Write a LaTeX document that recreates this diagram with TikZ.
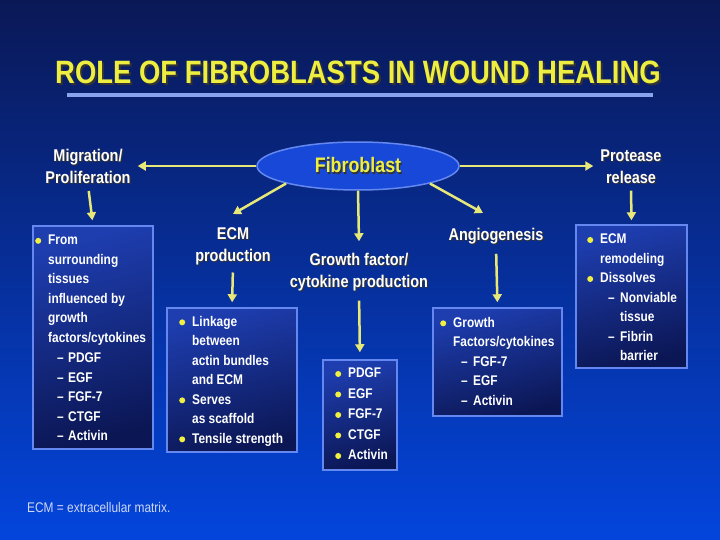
\documentclass[tikz,border=0pt]{standalone}
\usepackage{fontspec}
\setmainfont{Liberation Sans}
\newfontfamily\cf[FakeStretch=0.85]{Liberation Sans}
\usetikzlibrary{shapes.geometric,arrows.meta}
\definecolor{bgtop}{HTML}{0A1856}
\definecolor{bgmid}{HTML}{0930A6}
\definecolor{bgbot}{HTML}{0345DC}
\definecolor{ttlyel}{HTML}{EEEE40}
\definecolor{arryel}{HTML}{E8E878}
\definecolor{byel}{HTML}{F0F040}
\definecolor{rule}{HTML}{8AA4EC}
\definecolor{edge}{HTML}{6488F0}
\definecolor{boxtop}{HTML}{1E3EB0}
\definecolor{boxbot}{HTML}{0B1654}
\definecolor{ellfill}{HTML}{1848D8}
\definecolor{fncol}{HTML}{D0D8F4}
\newcommand\shd[2][1.2pt]{\makebox[0pt][l]{\hspace{#1}\raisebox{-#1}{\color{black!80}#2}}#2}
\newcommand\bl{\makebox[0pt][r]{\tikz[baseline=-4pt]\fill[byel] (0pt,0pt) circle (3pt);\hspace{7pt}}}
\newcommand\sub[1]{\hspace*{9pt}\makebox[11pt][l]{–}#1}
\newcommand\subb[1]{\hspace*{8pt}\makebox[12pt][l]{–}#1}
\newcommand\subc[1]{\hspace*{20pt}#1}
\tikzset{
  conn/.style={draw=arryel, line width=2.5pt, -{Triangle[width=9pt,length=8pt]}},
  lbl/.style={text=white, align=center, inner sep=0pt, font=\cf\bfseries\fontsize{17}{22}\selectfont},
  boxnode/.style={draw=edge, line width=1.5pt, top color=boxtop, bottom color=boxbot, shading angle=15, inner sep=0pt},
  boxtext/.style={text=white, align=left, inner sep=0pt, anchor=north west, font=\cf\bfseries\fontsize{14}{19.5}\selectfont}
}
\begin{document}
\begin{tikzpicture}[x=1pt,y=-1pt]
\useasboundingbox (0,0) rectangle (720,540);
\shade[top color=bgtop, middle color=bgmid, bottom color=bgbot] (0,0) rectangle (720,540);
% title
\node[text=ttlyel, inner sep=0pt, font=\cf\bfseries\fontsize{32.3}{32}\selectfont] (title) at (358,73) {\shd[2pt]{ROLE OF FIBROBLASTS IN WOUND HEALING}};
\draw[rule, line width=4pt] (67,95) -- (653,95);
% central ellipse
\node[ellipse, draw=edge, line width=1.5pt, fill=ellfill, minimum width=202pt, minimum height=48pt, inner sep=0pt, text=ttlyel, font=\cf\bfseries\fontsize{21}{21}\selectfont] (fib) at (358,166) {\shd{Fibroblast}};
% labels
\node[lbl] (mig) at (88,167) {\shd{Migration/}\\\shd{Proliferation}};
\node[lbl] (pro) at (631,167) {\shd{Protease}\\\shd{release}};
\node[lbl] (ecm) at (233,247) {\shd{ECM}\\\shd{production}};
\node[lbl] (gf) at (359,273) {\shd{Growth factor/}\\\shd{cytokine production}};
\node[lbl] (ang) at (496,237) {\shd{Angiogenesis}};
\coordinate (ecmtip) at (233,214);
\coordinate (angtip) at (483,213);
% boxes
\node[boxnode, minimum width=120pt, minimum height=223pt] (b1) at (93,337.5) {};
\node[boxnode, minimum width=130pt, minimum height=144pt] (b2) at (232,380) {};
\node[boxnode, minimum width=74pt, minimum height=110pt] (b3) at (360,415) {};
\node[boxnode, minimum width=129pt, minimum height=108pt] (b4) at (497.5,362) {};
\node[boxnode, minimum width=111pt, minimum height=143pt] (b5) at (631.5,296.5) {};
% box contents
\node[boxtext] (t1) at (48,235) {\bl From\\surrounding\\tissues\\influenced by\\growth\\factors/cytokines\\[1pt]\sub{PDGF}\\\sub{EGF}\\\sub{FGF-7}\\\sub{CTGF}\\\sub{Activin}};
\node[boxtext] (t2) at (192,316) {\bl Linkage\\between\\actin bundles\\and ECM\\\bl Serves\\as scaffold\\\bl Tensile strength};
\node[boxtext, font=\cf\bfseries\fontsize{14}{20.5}\selectfont] (t3) at (348,368) {\bl PDGF\\\bl EGF\\\bl FGF-7\\\bl CTGF\\\bl Activin};
\node[boxtext] (t4) at (453,317) {\bl Growth\\Factors/cytokines\\\subb{FGF-7}\\\subb{EGF}\\\subb{Activin}};
\node[boxtext] (t5) at (600,234) {\bl ECM\\remodeling\\\bl Dissolves\\\subb{Nonviable}\\\subc{tissue}\\\subb{Fibrin}\\\subc{barrier}};
% connectors
\draw[conn] (fib.west) -- ([xshift=7pt]fib.west -| mig.east);
\draw[conn] (fib.east) -- ([xshift=-7pt]fib.east -| pro.west);
\draw[conn] (fib.south west) -- (ecmtip);
\draw[conn] (fib.south east) -- (angtip);
\draw[conn] (fib.south) -- ([yshift=12pt]gf.north);
\draw[conn, shorten <=6pt, shorten >=5pt] (mig.south) -- (b1.north);
\draw[conn, shorten <=6pt, shorten >=5pt] (ecm.south) -- (b2.north);
\draw[conn, shorten <=8pt, shorten >=7pt] (gf.south) -- (b3.north);
\draw[conn, shorten <=8pt, shorten >=5pt] (ang.south) -- (b4.north);
\draw[conn, shorten <=6pt, shorten >=4pt] (pro.south) -- (b5.north);
% footnote
\node[anchor=west, inner sep=0pt, text=fncol, font=\cf\fontsize{14}{16}\selectfont] (fn) at (27,507) {ECM = extracellular matrix.};
\end{tikzpicture}
\end{document}
